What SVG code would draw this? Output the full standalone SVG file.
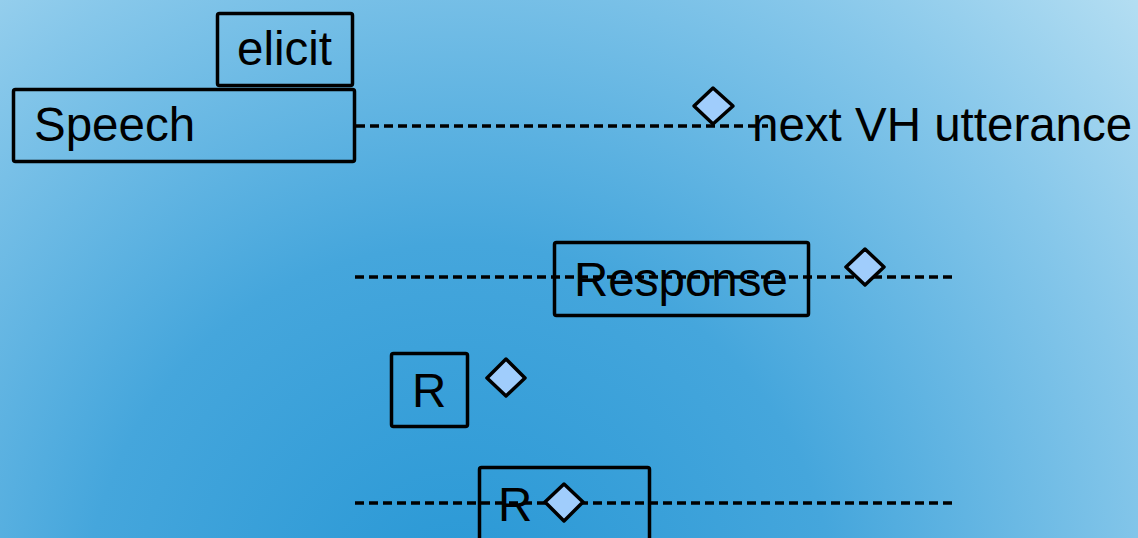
<svg xmlns="http://www.w3.org/2000/svg" width="1138" height="538" viewBox="0 0 1138 538">
  <defs>
    <radialGradient id="bg" cx="460" cy="620" r="940" gradientUnits="userSpaceOnUse">
      <stop offset="0" stop-color="#2797d5"/>
      <stop offset="0.4" stop-color="#45a6dc"/>
      <stop offset="0.75" stop-color="#86c7ea"/>
      <stop offset="1" stop-color="#b8e0f3"/>
    </radialGradient>
    <style>
      .box { fill: none; stroke: #000; stroke-width: 3.5; stroke-linejoin: round; }
      .lbl { font-family: "Liberation Sans", Arial, sans-serif; font-size: 47.5px; fill: #000; }
      .dash { stroke: #000; stroke-width: 3.5; stroke-dasharray: 9 5; fill: none; }
      .dia { fill: #a0cdfc; stroke: #000; stroke-width: 3.5; stroke-linejoin: round; }
    </style>
  </defs>

  <rect x="0" y="0" width="1138" height="538" fill="url(#bg)"/>

  <!-- timeline connectors -->
  <g id="connectors">
    <line class="dash" x1="356" y1="126" x2="768" y2="126"/>
    <line class="dash" x1="355" y1="277" x2="955" y2="277"/>
    <line class="dash" x1="355" y1="503" x2="955" y2="503"/>
  </g>

  <g id="elicit">
    <rect class="box" x="217.5" y="13.5" width="135" height="72" rx="2"/>
    <text class="lbl" x="237" y="65">elicit</text>
  </g>

  <g id="speech">
    <rect class="box" x="13.5" y="89.5" width="341" height="72" rx="2"/>
    <text class="lbl" x="34" y="141">Speech</text>
  </g>

  <g id="next-utterance">
    <polygon class="dia" points="713,88 733,106 713,124 694,106"/>
    <text class="lbl" x="752" y="141">next VH utterance</text>
  </g>

  <g id="response">
    <rect class="box" x="554.5" y="242.5" width="254" height="73" rx="2"/>
    <text class="lbl" x="681" y="296" text-anchor="middle">Response</text>
    <polygon class="dia" points="865,249 884,267 865,285 846,267"/>
  </g>

  <g id="r-first">
    <rect class="box" x="391.5" y="353.5" width="76" height="73" rx="2"/>
    <text class="lbl" x="412" y="407">R</text>
    <polygon class="dia" points="506,359 525,378 506,396 487,378"/>
  </g>

  <g id="r-second">
    <rect class="box" x="479.5" y="467.5" width="170" height="80" rx="2"/>
    <text class="lbl" x="498" y="521">R</text>
    <polygon class="dia" points="564,484 583,502 564,521 545,502"/>
  </g>
</svg>
